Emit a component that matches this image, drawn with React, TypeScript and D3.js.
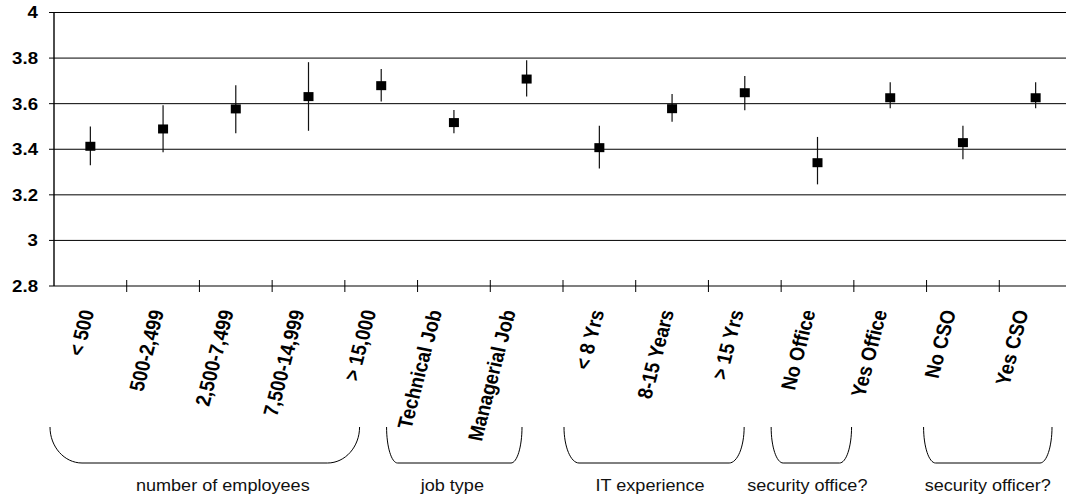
import React from "react";
import * as d3 from "d3";

const categories = [
  "< 500",
  "500-2,499",
  "2,500-7,499",
  "7,500-14,999",
  "> 15,000",
  "Technical Job",
  "Managerial Job",
  "< 8 Yrs",
  "8-15 Years",
  "> 15 Yrs",
  "No Office",
  "Yes Office",
  "No CSO",
  "Yes CSO",
];
const means = [3.413, 3.489, 3.577, 3.631, 3.679, 3.517, 3.708, 3.407, 3.578, 3.648, 3.341, 3.626, 3.429, 3.626];
const upper = [3.50, 3.593, 3.681, 3.782, 3.752, 3.572, 3.79, 3.503, 3.642, 3.721, 3.454, 3.694, 3.503, 3.694];
const lower = [3.33, 3.387, 3.47, 3.481, 3.61, 3.47, 3.631, 3.316, 3.521, 3.571, 3.246, 3.58, 3.356, 3.58];
const yTicks = [2.8, 3, 3.2, 3.4, 3.6, 3.8, 4];
const groupNames = ["number of employees", "job type", "IT experience", "security office?", "security officer?"];
const groupFrom = [0, 5, 7, 10, 12];
const groupTo = [4, 6, 9, 11, 13];

// hand-placed layout tweaks (px)
const labelShift = [-5, -8, -11, -13, -14, -21, -20, -4, -7, -10, -11, -12, -16, -16];
const braceLeft = [-4, -31, 1, -10, -3];
const braceRight = [-58, -41, -37, -75, -20];
const braceCorner = [32, 11, 15, 12, 12];
const groupLabelShift = [18, -2, -4, -4, 0];

const W = 1066;
const H = 497;
const SX = 1.13; // the original is stretched horizontally

const App = () => {
  const x = d3.scaleBand().domain(categories).range([54, 1072]).padding(0);
  const y = d3.scaleLinear().domain([2.8, 4]).range([286, 12.5]);
  const bw = x.bandwidth();
  const boundaries = d3.range(categories.length + 1).map((i) => 54 + i * bw);
  const braceTop = 427;
  const braceBottom = 463;

  return (
    <svg width={W} height={H} style={{ position: "absolute", left: 0, top: 0, fontFamily: "Liberation Sans, Arial, sans-serif" }}>
      {yTicks.slice(1).map((t) => (
        <line key={"g" + t} x1={54} x2={W} y1={y(t)} y2={y(t)} stroke="#000" strokeWidth={1} />
      ))}
      <line x1={54} x2={W} y1={y(2.8)} y2={y(2.8)} stroke="#000" strokeWidth={1.2} />
      <line x1={54} x2={54} y1={y(4)} y2={y(2.8)} stroke="#000" strokeWidth={1.4} />
      {yTicks.map((t) => (
        <g key={"t" + t}>
          <line x1={49} x2={54} y1={y(t)} y2={y(t)} stroke="#000" />
          <text
            transform={`translate(38,${y(t)}) scale(${SX},1)`}
            textAnchor="end"
            dy="0.36em"
            fontSize={16.5}
            fontWeight="bold"
          >
            {d3.format("")(t)}
          </text>
        </g>
      ))}
      {boundaries.slice(1).map((b, i) => (
        <line key={"xb" + i} x1={b} x2={b} y1={280} y2={292} stroke="#000" />
      ))}
      {categories.map((c, i) => {
        const cx = (x(c) as number) + bw / 2;
        return (
          <g key={c}>
            <line x1={cx} x2={cx} y1={y(upper[i])} y2={y(lower[i])} stroke="#111" strokeWidth={1.2} />
            <rect x={cx - 5} y={y(means[i]) - 4.5} width={10} height={9} fill="#000" />
            <text
              transform={`translate(${cx + labelShift[i] + 2},310) scale(${SX},1) rotate(-77)`}
              textAnchor="end"
              dy="0.35em"
              fontSize={18.4}
              fontWeight="bold"
            >
              {c}
            </text>
          </g>
        );
      })}
      {groupNames.map((g, i) => {
        const l = 54 + groupFrom[i] * bw + braceLeft[i];
        const r = 54 + (groupTo[i] + 1) * bw + braceRight[i];
        const k = braceCorner[i];
        const ry = braceBottom - braceTop;
        const p = d3.path();
        p.moveTo(l, braceTop);
        p.bezierCurveTo(l, braceTop + ry * 0.55, l + k * 0.45, braceBottom, l + k, braceBottom);
        p.lineTo(r - k, braceBottom);
        p.bezierCurveTo(r - k * 0.45, braceBottom, r, braceTop + ry * 0.55, r, braceTop);
        return (
          <g key={g}>
            <path d={p.toString()} fill="none" stroke="#000" strokeWidth={1} />
            <text
              transform={`translate(${(l + r) / 2 + groupLabelShift[i]},491) scale(${SX},1)`}
              textAnchor="middle"
              fontSize={16}
              fill="#111"
            >
              {g}
            </text>
          </g>
        );
      })}
    </svg>
  );
};

export default App;
